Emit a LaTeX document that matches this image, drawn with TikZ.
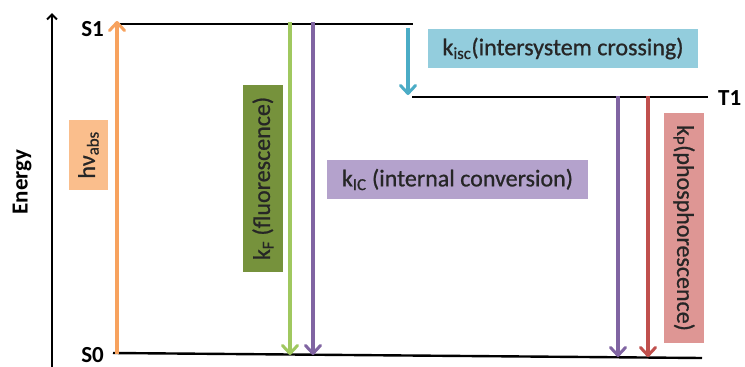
\documentclass[tikz,border=0pt]{standalone}
\usepackage{fontspec}
\setmainfont{Carlito}
\usetikzlibrary{arrows.meta}
\definecolor{absorb}{RGB}{247,162,94}
\definecolor{absorbbox}{RGB}{250,190,140}
\definecolor{fluor}{RGB}{160,200,95}
\definecolor{fluorbox}{RGB}{118,146,60}
\definecolor{icarrow}{RGB}{128,100,162}
\definecolor{icbox}{RGB}{180,162,204}
\definecolor{iscarrow}{RGB}{75,172,198}
\definecolor{iscbox}{RGB}{147,205,221}
\definecolor{phos}{RGB}{192,80,77}
\definecolor{phosbox}{RGB}{222,150,148}
\tikzset{
  level/.style={line width=2.4pt, black},
  trans/.style={line width=3.3pt, -{Straight Barb[length=8pt,width=15pt,line width=3pt,round]}},
  statelabel/.style={font=\bfseries\fontsize{23}{23}\selectfont, inner sep=0pt},
  ratebox/.style={inner xsep=6pt, inner ysep=5pt, text=black!85,
    font=\fontsize{24}{24}\selectfont\addfontfeature{FakeBold=0.8}},
}
\begin{document}
\begin{tikzpicture}[x=1pt,y=-1pt]
\useasboundingbox (0,0) rectangle (745,367);
\fill[white] (0,0) rectangle (745,367);

% energy axis
\coordinate (axbot) at (52,367);
\coordinate (axtop) at (52,13);
\draw[line width=2pt, -{Straight Barb[length=5pt,width=10pt,line width=2pt]}] (axbot) -- (axtop);
\node[rotate=90, font=\bfseries\fontsize{23}{23}\selectfont] (energy) at (22,182) {Energy};

% electronic levels
\coordinate (s1l) at (115,24);
\coordinate (s1r) at (413,24);
\coordinate (t1l) at (412,97);
\coordinate (t1r) at (708,97);
\coordinate (s0l) at (113,353);
\coordinate (s0r) at (702,358);
\draw[level] (s1l) -- (s1r);
\draw[level] (t1l) -- (t1r);
\draw[level] (s0l) -- (s0r);
\node[statelabel, anchor=east] (s1) at (104,29) {S1};
\node[statelabel, anchor=east] (s0) at (104,355) {S0};
\node[statelabel, anchor=west] (t1) at (718,98) {T1};

% transition end points
\coordinate (absB) at (117,354);
\coordinate (absT) at (117,21);
\coordinate (fT) at (290,22);
\coordinate (fB) at (290,355);
\coordinate (icT) at (313,22);
\coordinate (icB) at (313,355);
\coordinate (iscT) at (408,28);
\coordinate (iscB) at (408,95);
\coordinate (ic2T) at (618,96);
\coordinate (ic2B) at (618,357);
\coordinate (pT) at (648,96);
\coordinate (pB) at (648,357);

% transitions
\draw[trans, absorb] (absB) -- (absT);
\draw[trans, fluor] (fT) -- (fB);
\draw[trans, icarrow] (icT) -- (icB);
\draw[trans, iscarrow] (iscT) -- (iscB);
\draw[trans, icarrow] (ic2T) -- (ic2B);
\draw[trans, phos] (pT) -- (pB);

% rate labels
\node[ratebox, fill=absorbbox, rotate=90, minimum width=70pt, minimum height=39pt] (habs) at (88.5,155) {hν\textsubscript{abs}};
\node[ratebox, fill=fluorbox, rotate=90, minimum width=187pt, minimum height=40pt] (kf) at (263,178.5) {k\textsubscript{F} (fluorescence)};
\node[ratebox, fill=icbox, minimum width=261pt, minimum height=39pt] (kic) at (457.5,179.5) {k\textsubscript{IC} (internal conversion)};
\node[ratebox, fill=iscbox, minimum width=270pt, minimum height=39pt] (kisc) at (563,48.5) {k\textsubscript{isc}(intersystem crossing)};
\node[ratebox, fill=phosbox, rotate=-90, minimum width=230pt, minimum height=40pt] (kp) at (684,228) {k\textsubscript{P}(phosphorescence)};
\end{tikzpicture}
\end{document}
